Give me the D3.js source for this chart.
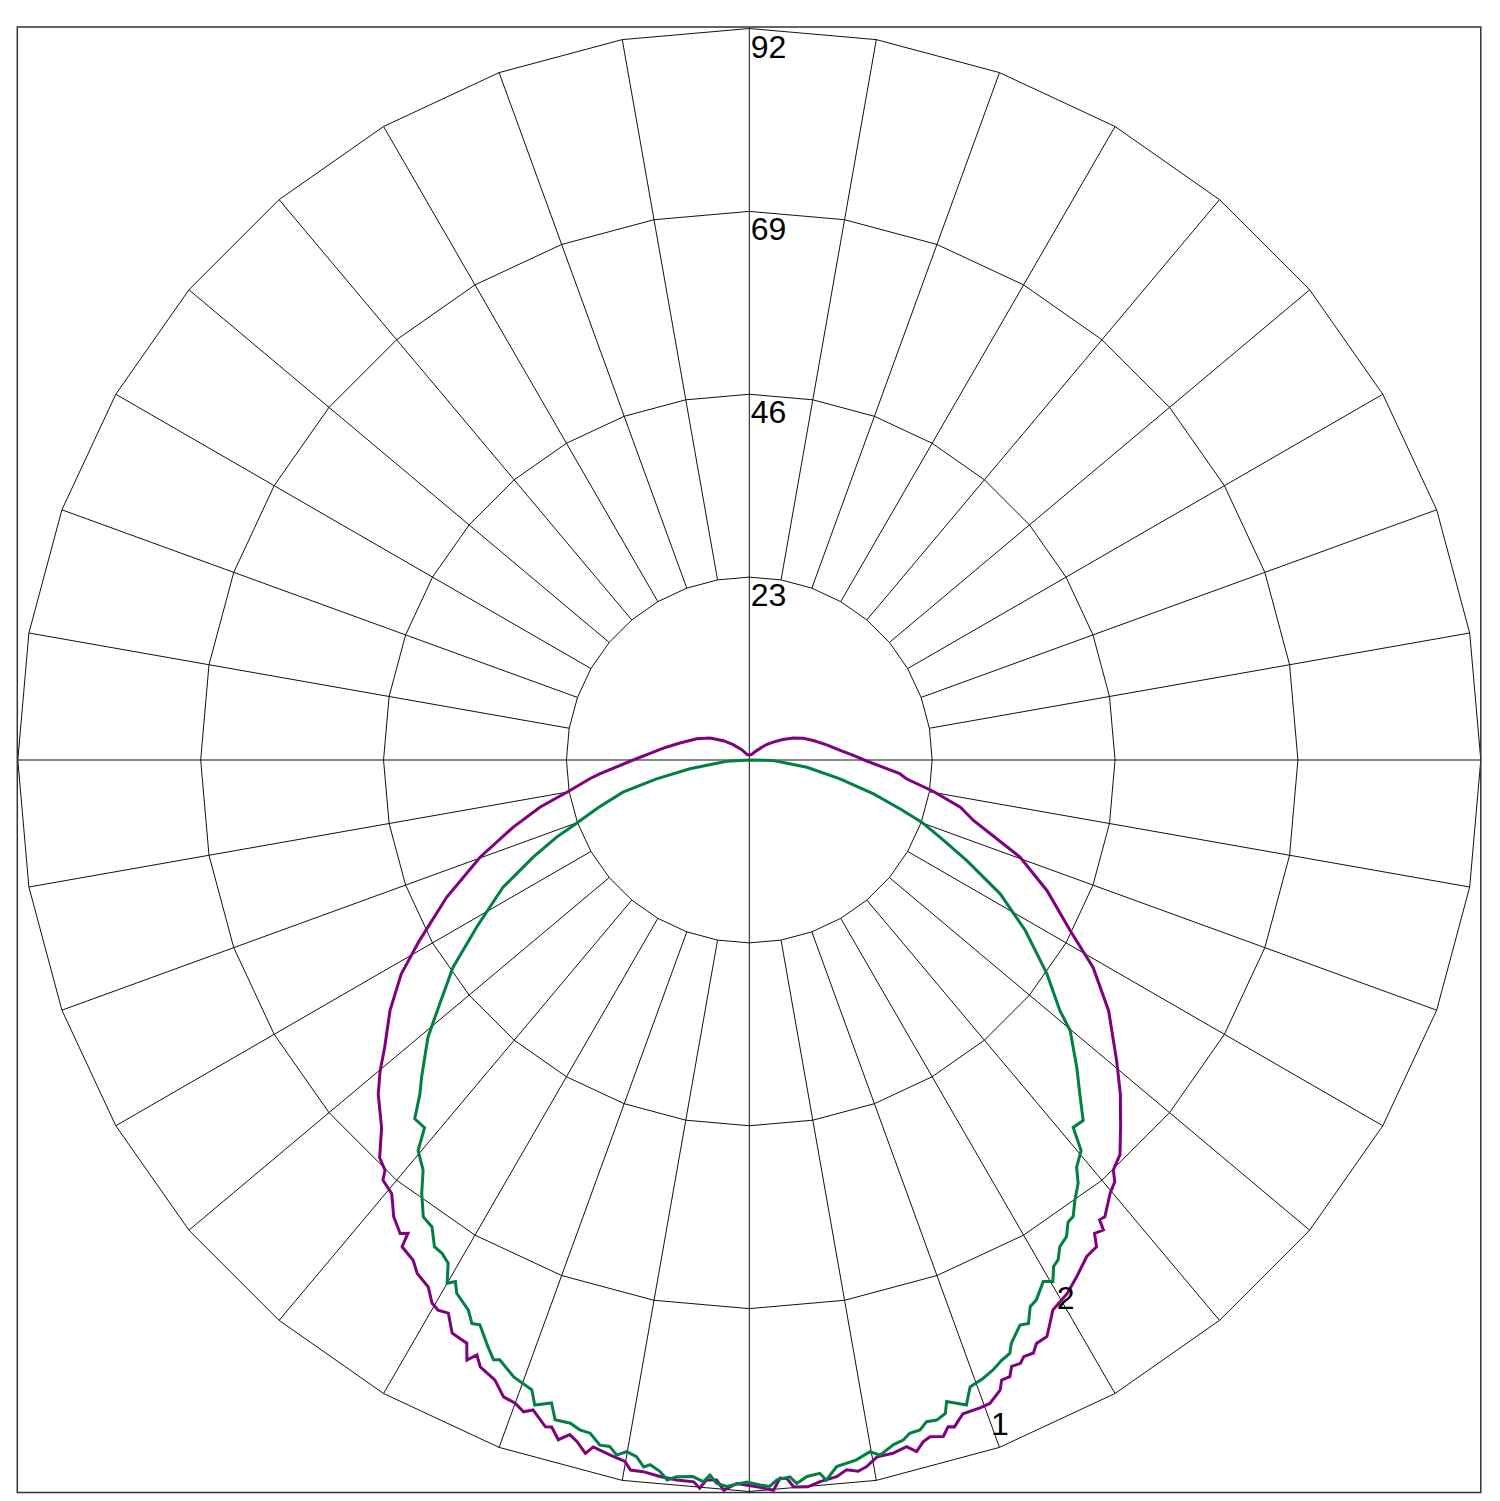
<!DOCTYPE html>
<html>
<head>
<meta charset="utf-8">
<script src="https://cdn.jsdelivr.net/npm/d3@7"></script>
<style>
  html, body { margin: 0; padding: 0; background: #fff; }
  svg { display: block; }
</style>
</head>
<body>
<svg id="chart" width="1500" height="1501"></svg>
<script>
// ---- Data (angles in degrees: 0 = down, 90 = right, 180 = up, 270 = left) ----
const ringTicks = [23, 46, 69, 92];
const ringLabels = ["23", "46", "69", "92"];
const spokeAngles = d3.range(0, 360, 10);
const rMax = 92;

const series1Name = "1";
const series1Angles = [0.6, 1.9, 2.45, 3.0, 3.5, 4.6, 5.6, 6.95, 7.8, 8.7, 9.4, 10.4, 11.7, 12.9, 13.6, 14.3, 14.95, 16.0, 16.6, 17.1, 17.6, 18.1, 19.6, 20.5, 21.7, 22.15, 22.9, 23.4, 24.2, 24.7, 25.6, 26.2, 27.3, 28.1, 28.9, 30.8, 32.4, 34.2, 35.5, 36.1, 37.0, 37.3, 37.9, 39.8, 40.9, 41.6, 43.2, 45.3, 48.0, 50.7, 55.1, 58.9, 62.0, 66.3, 70.25, 74.9, 77.4, 80.3, 83.2, 84.8, 89.75, 92.5, 96, 101.1, 107, 112, 116.4, 121.5, 126.6, 132.3, 142, 160, 180, 200, 216.4, 226.3, 233.4, 240.8, 248, 256.2, 262.1, 267, 270.6, 275.3, 276.7, 280, 282.7, 285.9, 289.85, 294.4, 298.7, 301.6, 304.9, 308.25, 310.1, 312, 315, 317.1, 318.4, 318.9, 320.5, 322.1, 323.6, 324.2, 324.5, 326.1, 327.1, 328.65, 329.7, 330.5, 331.45, 332.6, 334.15, 334.8, 335.4, 336.1, 337.7, 338.9, 340.0, 340.9, 341.6, 343.0, 343.5, 344.3, 345.1, 345.8, 346.7, 347.2, 348.7, 349.95, 350.5, 351.5, 352.9, 354.25, 355.6, 356.1, 356.6, 357.4, 358.0, 359.0];
const series1Values = [91.4, 91.9, 90.4, 90.5, 91.6, 91.7, 91.2, 90.8, 90.1, 90.5, 90.1, 89.1, 89.05, 88.6, 89.5, 88.5, 88.1, 88.5, 87.5, 87.75, 87.1, 86.5, 86.5, 86.4, 85.3, 84.2, 84.2, 83.1, 83.2, 82.6, 82.7, 81.8, 81.6, 80.3, 79.0, 78.1, 76.9, 75.5, 75.2, 73.7, 74.0, 72.7, 72.8, 70.9, 70.2, 68.96, 68.1, 65.7, 62.8, 59.7, 55.1, 50.5, 45.7, 40.9, 36.2, 29.2, 27.2, 23.5, 19.9, 19.0, 14.6, 13.1, 11.5, 9.93, 8.4, 7.33, 6.2, 4.93, 3.76, 2.84, 1.5, 0.7, 0.67, 0.7, 1.61, 2.8, 4.07, 5.67, 7.14, 8.97, 10.9, 12.9, 15.0, 18.9, 20.2, 23.3, 27.0, 30.9, 36.0, 41.8, 47.3, 51.4, 55.1, 58.4, 60.7, 62.8, 65.4, 68.3, 69.0, 70.1, 70.7, 72.8, 74.0, 73.4, 75.2, 75.8, 76.9, 77.6, 79.1, 79.5, 79.2, 81.2, 81.5, 83.4, 82.3, 83.5, 84.3, 85.85, 86.1, 86.75, 86.15, 87.7, 87.5, 88.8, 87.8, 88.4, 89.6, 88.6, 89.15, 89.6, 90.55, 90.5, 90.8, 91.0, 91.05, 91.8, 90.7, 90.65, 91.9, 91.0];

const series2Name = "2";
const series2Angles = [0.85, 1.6, 2.2, 3.25, 3.75, 4.6, 5.65, 6.1, 7.05, 8.7, 9.9, 10.65, 11.9, 12.75, 13.4, 14.3, 15.0, 15.85, 16.7, 17.1, 18.6, 19.4, 20.7, 21.8, 22.8, 23.7, 24.2, 25.6, 26.35, 27.2, 28.0, 29.4, 30.2, 31.0, 31.7, 32.55, 33.65, 34.6, 35.35, 36.5, 37.85, 38.8, 40.35, 41.4, 42.8, 44.7, 46.8, 49.85, 51.1, 54.3, 58.3, 61.9, 65.2, 67.95, 70.2, 72.05, 74.75, 78.3, 82.85, 88.8, 90, 270, 273.3, 278.4, 281.5, 284.3, 287.5, 290.4, 291.8, 294.2, 297.35, 301.5, 305, 308.25, 310.8, 314.1, 315.4, 317, 318.55, 319.7, 321.5, 322.9, 324.5, 325.8, 327.1, 328.1, 329.1, 330.0, 330.6, 331.25, 332.95, 333.8, 334.5, 336.0, 336.9, 337.4, 339.1, 340.95, 341.6, 342.9, 343.6, 344.9, 345.8, 346.7, 347.7, 348.5, 349.2, 349.95, 350.8, 351.5, 352.0, 352.85, 353.5, 354.2, 355.5, 356.35, 356.85, 357.4, 358.2, 359.8];
const series2Values = [91.2, 91.4, 90.6, 90.3, 91.2, 90.4, 90.15, 91.1, 89.55, 89.05, 88.3, 88.95, 88.0, 87.7, 87.05, 86.95, 86.15, 86.3, 85.8, 84.4, 85.6, 83.6, 83.15, 82.6, 81.9, 81.5, 80.4, 78.8, 79.1, 77.3, 76.9, 75.3, 75.9, 74.3, 73.9, 72.6, 72.0, 70.6, 70.4, 68.85, 67.4, 65.7, 64.45, 61.6, 61.8, 59.1, 56.5, 52.8, 50.2, 46.1, 40.8, 35.8, 30.1, 25.9, 23.0, 19.9, 16.2, 11.65, 7.3, 3.0, 0, 0, 2.85, 7.55, 11.9, 16.4, 19.9, 23.6, 26.1, 29.8, 34.9, 40.2, 45.5, 49.6, 53.4, 57.4, 59.0, 61.7, 61.7, 64.4, 65.9, 68.3, 70.6, 71.0, 72.9, 73.1, 73.75, 76.0, 75.3, 76.5, 77.7, 79.0, 78.7, 80.8, 82.0, 81.7, 83.05, 83.8, 85.5, 84.6, 86.5, 86.4, 86.9, 87.0, 88.2, 88.1, 89.0, 88.35, 88.75, 89.9, 89.5, 90.2, 91.15, 90.6, 90.4, 90.95, 90.05, 91.05, 91.4, 90.8];

// ---- Layout ----
const cx = 749.3, cy = 760, R = 731.5;
const svg = d3.select("#chart");
const r = d3.scaleLinear().domain([0, rMax]).range([0, R]);
const toRad = a => (180 - a) * Math.PI / 180;   // lineRadial angle (0 = up, clockwise)
const px = (a, v) => cx + r(v) * Math.sin(a * Math.PI / 180);
const py = (a, v) => cy + r(v) * Math.cos(a * Math.PI / 180);

const g = svg.append("g").attr("transform", `translate(${cx},${cy})`);

// Frame
svg.append("rect")
  .attr("x", cx - R - 0.5).attr("y", cy - R - 1.5)
  .attr("width", 2 * R + 0.5).attr("height", 2 * R + 2.5)
  .attr("fill", "none").attr("stroke", "#333").attr("stroke-width", 1.5);

// Ring polygons
const ringLine = d3.lineRadial()
  .angle(d => toRad(d.a)).radius(d => r(d.v))
  .curve(d3.curveLinearClosed);
g.selectAll("path.ring").data(ringTicks).join("path")
  .attr("class", "ring")
  .attr("d", v => ringLine(spokeAngles.map(a => ({a, v}))))
  .attr("fill", "none").attr("stroke", "#111").attr("stroke-width", 1);

// Spokes
g.selectAll("line.spoke").data(spokeAngles.filter(a => a % 90 !== 0)).join("line")
  .attr("class", "spoke")
  .attr("x1", a => r(ringTicks[0]) * Math.sin(a * Math.PI / 180))
  .attr("y1", a => r(ringTicks[0]) * Math.cos(a * Math.PI / 180))
  .attr("x2", a => r(rMax) * Math.sin(a * Math.PI / 180))
  .attr("y2", a => r(rMax) * Math.cos(a * Math.PI / 180))
  .attr("stroke", "#111").attr("stroke-width", 1);

// Main axes
g.append("line").attr("x1", 0).attr("x2", 0).attr("y1", -r(rMax) - 1).attr("y2", r(rMax) + 2)
  .attr("stroke", "#111").attr("stroke-width", 1);
g.append("line").attr("y1", 0).attr("y2", 0).attr("x1", -r(rMax)).attr("x2", r(rMax))
  .attr("stroke", "#111").attr("stroke-width", 1);

// Curves
const curveLine = d3.lineRadial()
  .angle(d => toRad(d.a)).radius(d => r(d.v))
  .curve(d3.curveLinearClosed);
const s1 = series1Angles.map((a, i) => ({a, v: series1Values[i]}));
const s2 = series2Angles.map((a, i) => ({a, v: series2Values[i]}));
g.append("path").attr("d", curveLine(s1))
  .attr("fill", "none").attr("stroke", "#800080").attr("stroke-width", 3).attr("stroke-linejoin", "miter");
g.append("path").attr("d", curveLine(s2))
  .attr("fill", "none").attr("stroke", "#008044").attr("stroke-width", 3).attr("stroke-linejoin", "miter");

// Ring labels
const font = "'Liberation Sans', Arial, sans-serif";
svg.selectAll("text.tick").data(ringTicks).join("text")
  .attr("class", "tick")
  .attr("x", cx + 1.5)
  .attr("y", v => cy - r(v) + 29)
  .attr("font-family", font).attr("font-size", 32).attr("fill", "#000")
  .text((v, i) => ringLabels[i]);

// Series labels
const seriesLabels = [
  {name: series1Name, a: 20.7, v: 89.2},
  {name: series2Name, a: 30.5, v: 78.4}
];
svg.selectAll("text.slabel").data(seriesLabels).join("text")
  .attr("class", "slabel")
  .attr("x", d => px(d.a, d.v))
  .attr("y", d => py(d.a, d.v) + 11.5)
  .attr("text-anchor", "middle")
  .attr("font-family", font).attr("font-size", 32).attr("fill", "#000")
  .text(d => d.name);
</script>
</body>
</html>
